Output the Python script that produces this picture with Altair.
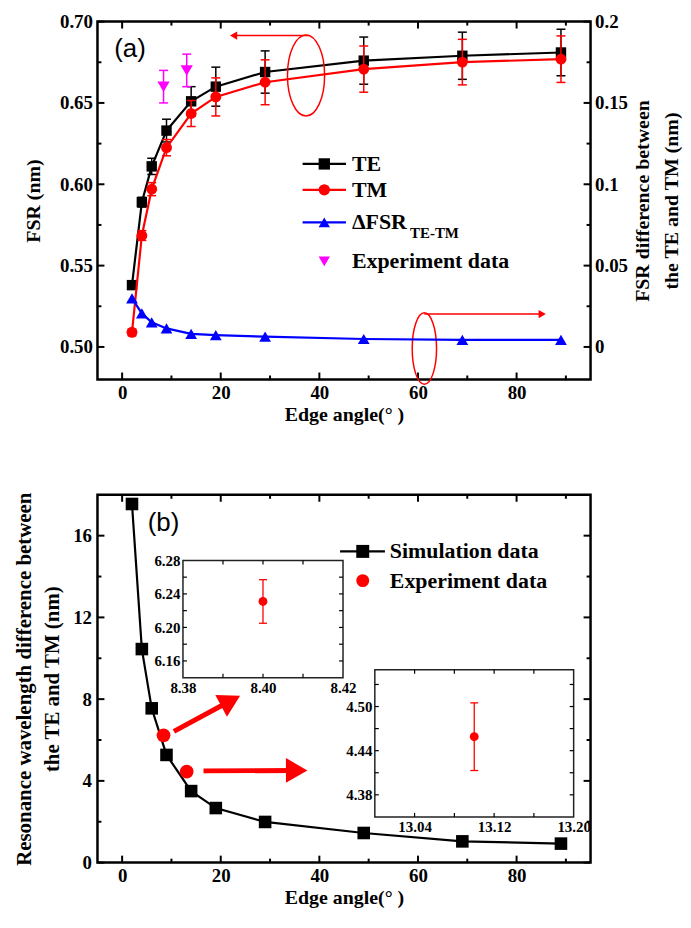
import altair as alt
import pandas as pd

# ---------------- data ----------------
angle = [2, 4, 6, 9, 14, 19, 29, 49, 69, 89]
fsr_te = [0.538, 0.589, 0.611, 0.633, 0.651, 0.660, 0.669, 0.676, 0.679, 0.681]
fsr_te_err = [0.002, 0.003, 0.005, 0.007, 0.009, 0.012, 0.013, 0.0145, 0.0145, 0.0143]
fsr_tm = [0.509, 0.5685, 0.597, 0.6225, 0.6435, 0.6537, 0.6627, 0.6708, 0.6751, 0.6769]
fsr_tm_err = [0.002, 0.003, 0.004, 0.005, 0.008, 0.0117, 0.0138, 0.0142, 0.0140, 0.0143]
dfsr = [0.0298, 0.0206, 0.0151, 0.0114, 0.0080, 0.0073, 0.0063, 0.0049, 0.0043, 0.0043]

exp_angle = [8.40, 13.10]
exp_fsr = [0.660, 0.670]
exp_fsr_err = [0.010, 0.010]

res_diff_sim = [17.55, 10.45, 7.55, 5.27, 3.50, 2.67, 1.99, 1.45, 1.04, 0.93]
res_diff_exp = [6.23, 4.455]

inset1_angle = [8.40]
inset1_val = [6.231]
inset1_err = [0.026]
inset2_angle = [13.10]
inset2_val = [4.459]
inset2_err = [0.046]

# axis tick values
x_major = [0, 20, 40, 60, 80]
x_minor = [10, 30, 50, 70, 90]
fsr_major = [0.50, 0.55, 0.60, 0.65, 0.70]
fsr_minor = [0.525, 0.575, 0.625, 0.675]
dfsr_labels = [0, 0.05, 0.10, 0.15, 0.20]
res_major = [0, 4, 8, 12, 16]
res_minor = [2, 6, 10, 14]
in1_x_labels = [8.38, 8.40, 8.42]
in1_x_ticks = [8.39, 8.40, 8.41]
in1_y_labels = [6.16, 6.20, 6.24, 6.28]
in1_y_ticks = [6.16, 6.18, 6.20, 6.22, 6.24, 6.26]
in2_x_labels = [13.04, 13.12, 13.20]
in2_x_ticks = [13.04, 13.08, 13.12, 13.16]
in2_y_labels = [4.38, 4.44, 4.50]
in2_y_ticks = [4.38, 4.41, 4.44, 4.47, 4.50, 4.53]

# annotations (in data units of each panel)
a_ell_x = [37.3, 61.3]
a_ell_y = [0.6669, 0.4990]
a_arrow_x0 = [37.8, 61.3]
a_arrow_x1 = [22.6, 85.2]
a_arrow_y = [0.6914, 0.5202]
a_leg_y = [0.6125, 0.5966, 0.5766, 0.5526]
a_leg_text = ["TE", "TM", "ΔFSR", "Experiment data"]
b_arrow_x0 = [10.5, 16.5]
b_arrow_y0 = [6.42, 4.49]
b_arrow_x1 = [22.0, 35.4]
b_arrow_y1 = [7.92, 4.51]
b_arrow_angle = [332, 0]
b_leg_y = [15.23, 13.80]
b_leg_text = ["Simulation data", "Experiment data"]

SERIF = "Liberation Serif"
W = 496
HA = 360
HB = 370
CAP = "M -1 0 L 1 0"
LAB = 19
TIT = 20

xa = alt.Scale(domain=[-5, 95], nice=False, zero=False)
ya = alt.Scale(domain=[0.48, 0.70], nice=False, zero=False)
ya_r = alt.Scale(domain=[-0.02, 0.20], nice=False, zero=False)
xb = alt.Scale(domain=[-5, 95], nice=False, zero=False)
yb = alt.Scale(domain=[0, 18], nice=False, zero=False)
# inset boxes, placed in pixels of panel (b)
IN1 = dict(l=86, r=247, t=66, b=184)
IN2 = dict(l=279, r=479, t=176, b=324)
x_in1 = alt.Scale(domain=[8.38, 8.42], range=[IN1["l"], IN1["r"]], nice=False, zero=False)
y_in1 = alt.Scale(domain=[6.14, 6.28], range=[IN1["b"], IN1["t"]], nice=False, zero=False)
x_in2 = alt.Scale(domain=[13.00, 13.20], range=[IN2["l"], IN2["r"]], nice=False, zero=False)
y_in2 = alt.Scale(domain=[4.35, 4.55], range=[IN2["b"], IN2["t"]], nice=False, zero=False)

# axes (the same object is given to every layer that shares the scale)
ax_xa = alt.Axis(orient="bottom", values=x_major, title="Edge angle(° )",
                 labelPadding=4, titlePadding=2)
ax_ya = alt.Axis(orient="left", values=fsr_major, format=".2f", title="FSR (nm)",
                 labelPadding=5, titlePadding=16)
ax_ya_r = alt.Axis(orient="right", values=dfsr_labels,
                   labelExpr="format(datum.value, '~g')", labelPadding=4,
                   title=["FSR difference between", "the TE and TM (nm)"],
                   titleAngle=270, titleBaseline="top", titleAlign="center",
                   titleX=42, titleY=HA / 2, titleLineHeight=29)
ax_xb = alt.Axis(orient="bottom", values=x_major, title="Edge angle(° )",
                 labelPadding=4, titlePadding=2)
ax_yb = alt.Axis(orient="left", values=res_major, labelPadding=6,
                 title=["Resonance wavelength difference between", "the TE and TM (nm)"],
                 titleAngle=270, titleBaseline="bottom", titleAlign="center",
                 titleX=-63, titleY=HB / 2, titleLineHeight=28, titleFontSize=21)
ax_x_in1 = alt.Axis(orient="bottom", values=in1_x_labels, format=".2f", title=None,
                    offset=-(HB - IN1["b"]), labelFontSize=15, labelPadding=3)
ax_y_in1 = alt.Axis(orient="left", values=in1_y_labels, format=".2f", title=None,
                    offset=-IN1["l"], labelFontSize=15, labelPadding=3)
ax_x_in2 = alt.Axis(orient="bottom", values=in2_x_labels, format=".2f", title=None,
                    offset=-(HB - IN2["b"]), labelFontSize=15, labelPadding=3)
ax_y_in2 = alt.Axis(orient="left", values=in2_y_labels, format=".2f", title=None,
                    offset=-IN2["l"], labelFontSize=15, labelPadding=3)


def ellipse_path(ratio):
    c = 0.5523
    a = ratio
    return (f"M 0 -1 C {c*a:.4f} -1 {a:.4f} {-c:.4f} {a:.4f} 0 "
            f"C {a:.4f} {c:.4f} {c*a:.4f} 1 0 1 "
            f"C {-c*a:.4f} 1 {-a:.4f} {c:.4f} {-a:.4f} 0 "
            f"C {-a:.4f} {-c:.4f} {-c*a:.4f} -1 0 -1 Z")


def Xq(f, s, ax):
    return alt.X(f"{f}:Q", scale=s, axis=ax)


def Yq(f, s, ax):
    return alt.Y(f"{f}:Q", scale=s, axis=ax)


def xticks(vals, s, ax, top_px, bottom_px, length, width=2):
    d = pd.DataFrame({"v": vals})
    return [
        alt.Chart(d).mark_rule(color="black", strokeWidth=width).encode(
            x=Xq("v", s, ax), y=alt.value(bottom_px), y2=alt.value(bottom_px - length)),
        alt.Chart(d).mark_rule(color="black", strokeWidth=width).encode(
            x=Xq("v", s, ax), y=alt.value(top_px), y2=alt.value(top_px + length)),
    ]


def yticks(vals, s, ax, left_px, right_px, length, width=2):
    d = pd.DataFrame({"v": vals})
    return [
        alt.Chart(d).mark_rule(color="black", strokeWidth=width).encode(
            y=Yq("v", s, ax), x=alt.value(left_px), x2=alt.value(left_px + length)),
        alt.Chart(d).mark_rule(color="black", strokeWidth=width).encode(
            y=Yq("v", s, ax), x=alt.value(right_px), x2=alt.value(right_px - length)),
    ]


def errbars(xs_, ys_, es_, xs, xax, ys, yax, color, cap=9, width=1.5):
    d = pd.DataFrame({"x": xs_, "lo": [v - e for v, e in zip(ys_, es_)],
                      "hi": [v + e for v, e in zip(ys_, es_)]})
    stem = alt.Chart(d).mark_rule(color=color, strokeWidth=width).encode(
        x=Xq("x", xs, xax), y=Yq("lo", ys, yax), y2="hi:Q")
    caps = [alt.Chart(d).mark_point(shape=CAP, size=cap * cap, filled=False, color=color,
                                    strokeWidth=width, opacity=1).encode(
        x=Xq("x", xs, xax), y=Yq(c, ys, yax)) for c in ("lo", "hi")]
    return [stem] + caps


# ---------------- panel (a) ----------------
dfa = pd.DataFrame({"angle": angle, "te": fsr_te, "tm": fsr_tm, "dfsr": dfsr})
dfexp = pd.DataFrame({"angle": exp_angle, "fsr": exp_fsr})


def XA(f):
    return Xq(f, xa, ax_xa)


def YA(f):
    return Yq(f, ya, ax_ya)


a_layers = []
a_layers += xticks(x_major, xa, ax_xa, 0, HA, 7)
a_layers += xticks(x_minor, xa, ax_xa, 0, HA, 4)
a_layers += yticks(fsr_major, ya, ax_ya, 0, W, 7)
a_layers += yticks(fsr_minor, ya, ax_ya, 0, W, 4)

a_layers += errbars(angle, fsr_te, fsr_te_err, xa, ax_xa, ya, ax_ya, "black")
a_layers.append(alt.Chart(dfa).mark_line(color="black", strokeWidth=2.2).encode(
    x=XA("angle"), y=YA("te")))
a_layers.append(alt.Chart(dfa).mark_point(shape="square", filled=True, color="black",
                                          size=110, opacity=1).encode(
    x=XA("angle"), y=YA("te")))
a_layers += errbars(angle, fsr_tm, fsr_tm_err, xa, ax_xa, ya, ax_ya, "#ff0000")
a_layers.append(alt.Chart(dfa).mark_line(color="#ff0000", strokeWidth=2.2).encode(
    x=XA("angle"), y=YA("tm")))
a_layers.append(alt.Chart(dfa).mark_point(shape="circle", filled=True, color="#ff0000",
                                          size=120, opacity=1).encode(
    x=XA("angle"), y=YA("tm")))
a_layers += errbars(exp_angle, exp_fsr, exp_fsr_err, xa, ax_xa, ya, ax_ya, "#ff00ff")
a_layers.append(alt.Chart(dfexp).mark_point(shape="triangle-down", filled=True,
                                            color="#ff00ff", size=150, opacity=1).encode(
    x=XA("angle"), y=YA("fsr")))

# annotation ellipses and arrows
ell1 = pd.DataFrame({"x": [a_ell_x[0]], "y": [a_ell_y[0]]})
ell2 = pd.DataFrame({"x": [a_ell_x[1]], "y": [a_ell_y[1]]})
a_layers.append(alt.Chart(ell1).mark_point(shape=ellipse_path(0.458), size=6659, filled=False,
                                           color="#ff0000", strokeWidth=1.5, opacity=1).encode(
    x=XA("x"), y=YA("y")))
a_layers.append(alt.Chart(ell2).mark_point(shape=ellipse_path(0.34), size=5184, filled=False,
                                           color="#ff0000", strokeWidth=1.5, opacity=1).encode(
    x=XA("x"), y=YA("y")))
arr_a = pd.DataFrame({"x0": a_arrow_x0, "x1": a_arrow_x1, "y": a_arrow_y,
                      "shape": ["triangle-left", "triangle-right"]})
a_layers.append(alt.Chart(arr_a).mark_rule(color="#ff0000", strokeWidth=1.5).encode(
    x=XA("x0"), x2="x1:Q", y=YA("y")))
a_layers.append(alt.Chart(arr_a).mark_point(filled=True, color="#ff0000", size=70,
                                            opacity=1).encode(
    x=XA("x1"), y=YA("y"), shape=alt.Shape("shape:N", scale=None, legend=None)))

# panel label
a_layers.append(alt.Chart(pd.DataFrame({"x": [-1.6], "y": [0.683], "t": ["(a)"]})).mark_text(
    font="Liberation Sans", fontSize=26, align="left", baseline="middle", color="black").encode(
    x=XA("x"), y=YA("y"), text="t:N"))

# legend (a)
leg_a = pd.DataFrame({"y": a_leg_y, "t": a_leg_text})
leg_lines = pd.DataFrame({"y": a_leg_y[:3], "c": ["black", "#ff0000", "#0000ff"],
                          "x0": [36.6] * 3, "x1": [45.4] * 3})
a_layers.append(alt.Chart(leg_lines).mark_rule(strokeWidth=2.2).encode(
    x=XA("x0"), x2="x1:Q", y=YA("y"), color=alt.Color("c:N", scale=None)))
leg_marks = pd.DataFrame({"x": [41.0] * 4, "y": a_leg_y,
                          "c": ["black", "#ff0000", "#0000ff", "#ff00ff"],
                          "s": ["square", "circle", "triangle-up", "triangle-down"]})
a_layers.append(alt.Chart(leg_marks).mark_point(filled=True, size=130, opacity=1).encode(
    x=XA("x"), y=YA("y"), color=alt.Color("c:N", scale=None),
    fill=alt.Fill("c:N", scale=None), shape=alt.Shape("s:N", scale=None)))
leg_a["x"] = 46.6
a_layers.append(alt.Chart(leg_a).mark_text(font=SERIF, fontWeight="bold", fontSize=22,
                                           align="left", baseline="middle",
                                           color="black").encode(
    x=XA("x"), y=YA("y"), text="t:N"))
a_layers.append(alt.Chart(pd.DataFrame({"x": [58.4], "y": [0.5703], "t": ["TE-TM"]})).mark_text(
    font=SERIF, fontWeight="bold", fontSize=15, align="left", baseline="middle",
    color="black").encode(x=XA("x"), y=YA("y"), text="t:N"))

left_a = alt.layer(*a_layers)

blue_line = alt.Chart(dfa).mark_line(color="#0000ff", strokeWidth=2.2).encode(
    x=XA("angle"), y=Yq("dfsr", ya_r, ax_ya_r))
blue_pts = alt.Chart(dfa).mark_point(shape="triangle-up", filled=True, color="#0000ff",
                                     size=140, opacity=1).encode(
    x=XA("angle"), y=Yq("dfsr", ya_r, ax_ya_r))
right_a = alt.layer(blue_line, blue_pts)

panel_a = alt.layer(left_a, right_a).resolve_scale(y="independent").properties(
    width=W, height=HA)

# ---------------- panel (b) ----------------
dfb = pd.DataFrame({"angle": angle, "sim": res_diff_sim})
dfbe = pd.DataFrame({"angle": exp_angle, "v": res_diff_exp})


def XB(f):
    return Xq(f, xb, ax_xb)


def YB(f):
    return Yq(f, yb, ax_yb)


b_layers = []
b_layers += xticks(x_major, xb, ax_xb, 0, HB, 7)
b_layers += xticks(x_minor, xb, ax_xb, 0, HB, 4)
b_layers += yticks(res_major, yb, ax_yb, 0, W, 7)
b_layers += yticks(res_minor, yb, ax_yb, 0, W, 4)
b_layers.append(alt.Chart(dfb).mark_line(color="black", strokeWidth=2.2).encode(
    x=XB("angle"), y=YB("sim")))
b_layers.append(alt.Chart(dfb).mark_point(shape="square", filled=True, color="black",
                                          size=160, opacity=1).encode(
    x=XB("angle"), y=YB("sim")))
b_layers.append(alt.Chart(dfbe).mark_point(shape="circle", filled=True, color="#ff0000",
                                           size=190, opacity=1).encode(
    x=XB("angle"), y=YB("v")))
arr_b = pd.DataFrame({"x0": b_arrow_x0, "y0": b_arrow_y0, "x1": b_arrow_x1,
                      "y1": b_arrow_y1, "ang": b_arrow_angle})
b_layers.append(alt.Chart(arr_b).mark_rule(color="#ff0000", strokeWidth=5).encode(
    x=XB("x0"), x2="x1:Q", y=YB("y0"), y2="y1:Q"))
b_layers.append(alt.Chart(arr_b).mark_point(shape="triangle-right", filled=True,
                                            color="#ff0000", size=620, opacity=1).encode(
    x=XB("x1"), y=YB("y1"), angle=alt.Angle("ang:Q", scale=None)))
b_layers.append(alt.Chart(pd.DataFrame({"x": [5.2], "y": [16.6], "t": ["(b)"]})).mark_text(
    font="Liberation Sans", fontSize=26, align="left", baseline="middle",
    color="black").encode(x=XB("x"), y=YB("y"), text="t:N"))
# legend (b)
b_layers.append(alt.Chart(pd.DataFrame({"x0": [44.2], "x1": [53.3], "y": [b_leg_y[0]]})).mark_rule(
    color="black", strokeWidth=2.2).encode(x=XB("x0"), x2="x1:Q", y=YB("y")))
b_leg_marks = pd.DataFrame({"x": [48.8, 48.8], "y": b_leg_y, "c": ["black", "#ff0000"],
                            "s": ["square", "circle"]})
b_layers.append(alt.Chart(b_leg_marks).mark_point(filled=True, size=170, opacity=1).encode(
    x=XB("x"), y=YB("y"), color=alt.Color("c:N", scale=None),
    fill=alt.Fill("c:N", scale=None), shape=alt.Shape("s:N", scale=None)))
b_layers.append(alt.Chart(pd.DataFrame({"x": [54.3, 54.3], "y": b_leg_y, "t": b_leg_text})).mark_text(
    font=SERIF, fontWeight="bold", fontSize=22, align="left", baseline="middle",
    color="black").encode(x=XB("x"), y=YB("y"), text="t:N"))
main_b = alt.layer(*b_layers)


def inset(xd, yd, xs, xax, ys, yax, xt, yt, px, py, pe, box):
    frame = pd.DataFrame({"x0": [xd[0]], "x1": [xd[1]], "y0": [yd[0]], "y1": [yd[1]]})
    lay = [alt.Chart(frame).mark_rect(fill="white", stroke="#222222", strokeWidth=1.5).encode(
        x=Xq("x0", xs, xax), x2="x1:Q", y=Yq("y0", ys, yax), y2="y1:Q")]
    lay += xticks(xt, xs, xax, box["t"], box["b"], 4, width=1.2)
    lay += yticks(yt, ys, yax, box["l"], box["r"], 4, width=1.2)
    lay += errbars(px, py, pe, xs, xax, ys, yax, "#ff0000", cap=8, width=1.3)
    lay.append(alt.Chart(pd.DataFrame({"x": px, "y": py})).mark_point(
        shape="circle", filled=True, color="#ff0000", size=80, opacity=1).encode(
        x=Xq("x", xs, xax), y=Yq("y", ys, yax)))
    return alt.layer(*lay)


inset1 = inset([8.38, 8.42], [6.14, 6.28], x_in1, ax_x_in1, y_in1, ax_y_in1, in1_x_ticks,
               in1_y_ticks, inset1_angle, inset1_val, inset1_err, IN1)
inset2 = inset([13.00, 13.20], [4.35, 4.55], x_in2, ax_x_in2, y_in2, ax_y_in2, in2_x_ticks,
               in2_y_ticks, inset2_angle, inset2_val, inset2_err, IN2)

panel_b = alt.layer(main_b, inset1, inset2).resolve_scale(
    x="independent", y="independent").properties(width=W, height=HB)

chart = alt.vconcat(panel_a, panel_b, spacing=64).properties(
    padding={"left": 4, "top": 0, "right": 0, "bottom": 0}
).configure_view(stroke="black", strokeWidth=2.5).configure_axis(
    labelFont=SERIF, labelFontWeight="bold", labelFontSize=LAB, labelColor="black",
    titleFont=SERIF, titleFontWeight="bold", titleFontSize=TIT, titleColor="black",
    domain=False, ticks=False, grid=False, labelFlush=False, labelOverlap=False)

chart.save("out.html", embed_options={"renderer": "svg", "actions": False})
